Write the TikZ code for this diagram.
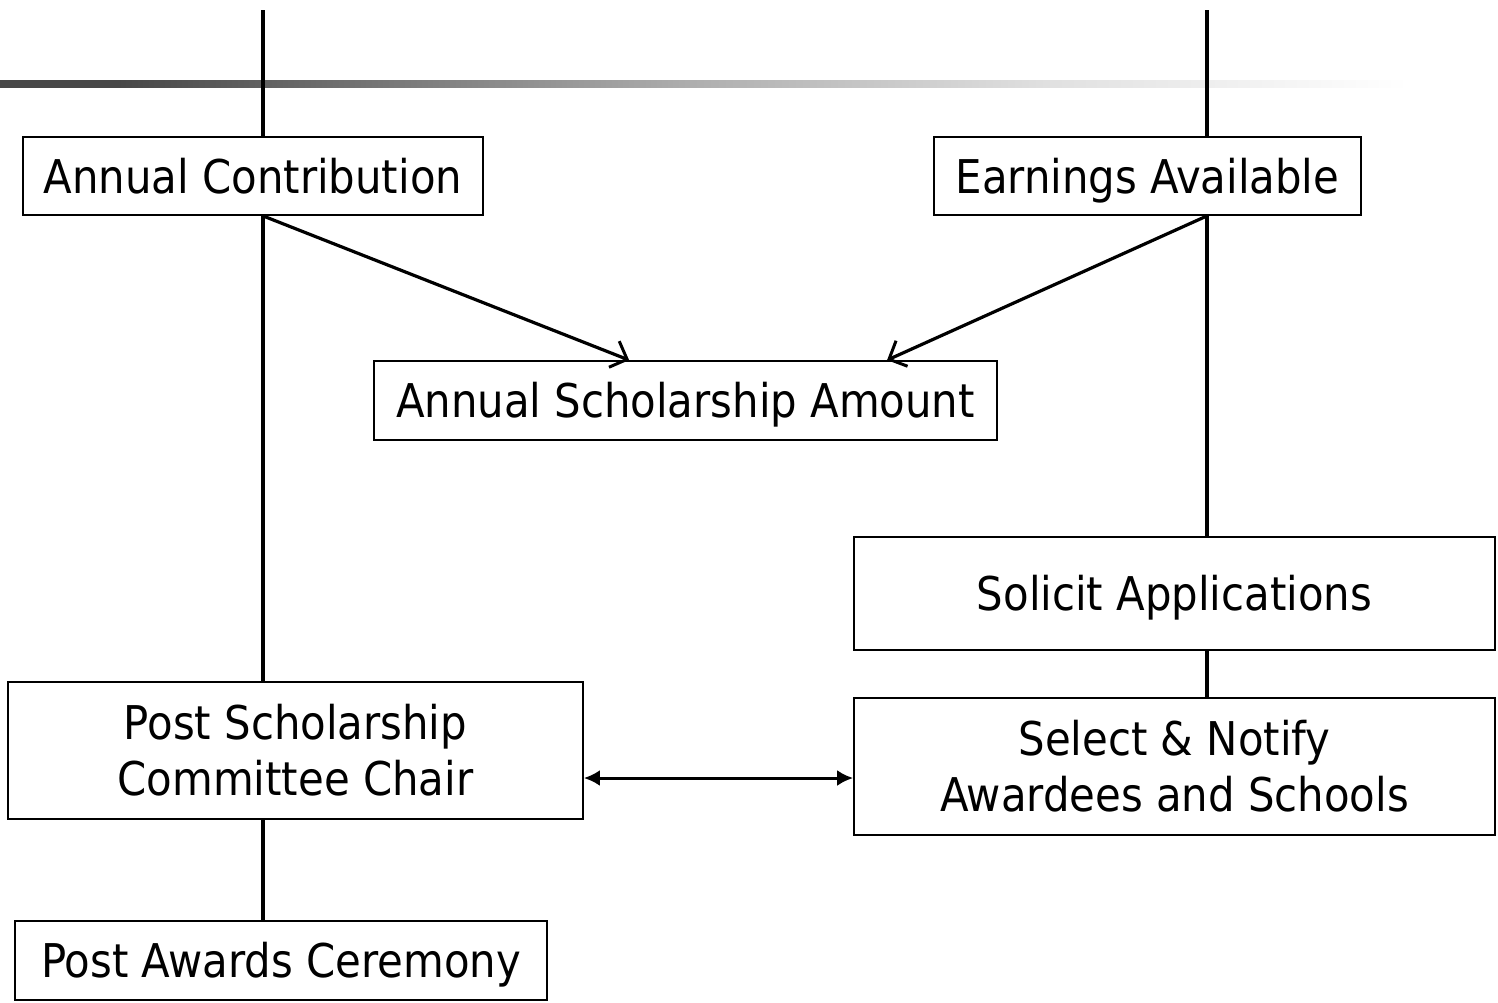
\documentclass[tikz,border=0pt]{standalone}
\usepackage{fontspec}
\setmainfont{DejaVu Sans Condensed}
\usetikzlibrary{arrows.meta,calc}
\pgfdeclarehorizontalshading{barshade}{100bp}{color(0bp)=(black!72); color(29bp)=(black!72); color(48bp)=(black!32); color(60bp)=(black!12); color(72bp)=(white); color(100bp)=(white)}
\begin{document}
\begin{tikzpicture}[x=1pt,y=-1pt,
  box/.style={draw,line width=1.8pt,inner sep=0pt,font=\fontsize{46.5}{56}\selectfont,align=center},
  one/.style={text height=40pt,text depth=6pt},
  conn/.style={line width=3.2pt},
  vee/.style={conn,-{Straight Barb[length=14pt,width=28pt,line width=3pt]}},
  dbl/.style={line width=3pt,{Latex[length=16pt,width=16pt]}-{Latex[length=16pt,width=16pt]}}]
\useasboundingbox (0,0) rectangle (1498,1002);
\shade[shading=barshade] (0,80) rectangle (1498,87);
\coordinate (lx) at (263,10);
\coordinate (rx) at (1207,10);
\node[box,one,minimum width=460pt,minimum height=78pt] (ac) at (253,176) {Annual Contribution};
\node[box,one,minimum width=427pt,minimum height=78pt] (ea) at (1147.5,176) {Earnings Available};
\node[box,one,minimum width=623pt,minimum height=79pt] (asa) at (685.5,400.5) {Annual Scholarship Amount};
\node[box,one,minimum width=641pt,minimum height=113pt] (sa) at (1174.5,593.5) {Solicit Applications};
\node[box,minimum width=641pt,minimum height=137pt] (sn) at (1174.5,766.5) {Select \& Notify\\Awardees and Schools};
\node[box,minimum width=575pt,minimum height=137pt] (ps) at (295.5,750.5) {Post Scholarship\\Committee Chair};
\node[box,one,minimum width=532pt,minimum height=79pt] (pa) at (281,960.5) {Post Awards Ceremony};
\draw[conn] (lx) -- (ac.north -| lx);
\draw[conn] (rx) -- (ea.north -| rx);
\draw[conn] (ac.south -| lx) -- (ps.north -| lx);
\draw[conn] (ea.south -| rx) -- (sa.north -| rx);
\draw[conn] (sa.south -| rx) -- (sn.north -| rx);
\draw[conn] (ps.south -| lx) -- (pa.north -| lx);
\draw[vee] (ac.south -| lx) -- ($(asa.north west)+(256,0)$);
\draw[vee] (ea.south -| rx) -- ($(asa.north west)+(514,0)$);
\draw[dbl] (ps.east |- 0,778) -- (sn.west |- 0,778);
\end{tikzpicture}
\end{document}
